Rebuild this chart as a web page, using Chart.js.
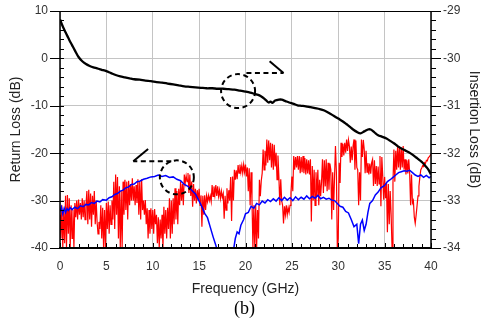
<!DOCTYPE html>
<html>
<head>
<meta charset="utf-8">
<script src="https://cdn.jsdelivr.net/npm/chart.js@4.4.1/dist/chart.umd.min.js"></script>
<style>
  html, body { margin: 0; padding: 0; background: #fff; }
  #wrap { width: 482px; height: 320px; }
</style>
</head>
<body>
<div id="wrap"><canvas id="chart" width="482" height="320"></canvas></div>
<script>
// tick labels
const freqTicks = [0, 5, 10, 15, 20, 25, 30, 35, 40];
const rlTicks = [10, 0, -10, -20, -30, -40];
const ilTicks = [-29, -30, -31, -32, -33, -34];

// insertion loss (black, right axis)
const ilFreq = [0, 0.2, 0.4, 0.6, 0.8, 1.0, 1.3, 1.6, 2.0, 2.4, 2.8, 3.2, 3.6, 4.0, 4.5, 5.0, 5.5, 6.0, 6.5, 7.0,
  7.5, 8.0, 8.6, 9.2, 9.8, 10.4, 11.0, 11.6, 12.2, 12.8, 13.4, 14.0, 14.6, 15.2, 15.8, 16.4, 17.0, 17.6, 18.2, 18.8,
  19.4, 20.0, 20.5, 21.0, 21.5, 21.9, 22.2, 22.5, 22.7, 22.9, 23.2, 23.6, 23.9, 24.3, 24.7, 25.2, 25.6, 26.0, 26.5, 27.0,
  27.5, 28.0, 28.5, 29.0, 29.5, 30.0, 30.5, 30.9, 31.3, 31.6, 32.0, 32.4, 32.8, 33.2, 33.5, 33.9, 34.3, 34.7, 35.2, 35.6,
  36.0, 36.4, 36.8, 37.2, 37.6, 38.0, 38.4, 38.8, 39.1, 39.4, 39.7, 39.9, 40.0];
const ilValues = [-29.18, -29.28, -29.37, -29.45, -29.53, -29.61, -29.72, -29.83, -29.97, -30.06, -30.12, -30.16, -30.19, -30.21, -30.24, -30.27, -30.31, -30.35, -30.38, -30.40,
  -30.42, -30.44, -30.45, -30.47, -30.48, -30.50, -30.51, -30.53, -30.55, -30.57, -30.59, -30.60, -30.61, -30.62, -30.63, -30.63, -30.64, -30.64, -30.65, -30.66,
  -30.68, -30.70, -30.72, -30.75, -30.78, -30.83, -30.88, -30.93, -30.91, -30.94, -30.89, -30.87, -30.87, -30.90, -30.93, -30.96, -30.99, -31.00, -31.01, -31.03,
  -31.05, -31.07, -31.10, -31.15, -31.21, -31.27, -31.33, -31.39, -31.45, -31.50, -31.55, -31.58, -31.54, -31.50, -31.50, -31.56, -31.62, -31.65, -31.69, -31.74,
  -31.79, -31.85, -31.90, -31.94, -31.98, -32.03, -32.09, -32.15, -32.20, -32.27, -32.34, -32.41, -32.45];

// return loss, blue trace
const blueFreq = [0, 0.15, 0.3, 0.45, 0.6, 0.75, 0.9, 1.1, 1.3, 1.6, 1.9, 2.2, 2.5, 2.8, 3.1, 3.4, 3.7, 4.0, 4.3, 4.6,
  5.0, 5.3, 5.6, 5.9, 6.2, 6.5, 6.8, 7.1, 7.4, 7.7, 8.0, 8.3, 8.6, 9.0, 9.4, 9.8, 10.2, 10.6, 11.0, 11.4,
  11.8, 12.2, 12.6, 13.0, 13.4, 13.8, 14.2, 14.6, 15.0, 15.3, 15.6, 15.9, 16.2, 16.5, 16.8, 17.0, 17.5, 18.3, 18.7, 18.9,
  19.1, 19.3, 19.5, 19.8, 20.0, 20.3, 20.6, 20.9, 21.2, 21.5, 21.8, 22.1, 22.4, 22.7, 23.0, 23.3, 23.6, 23.9, 24.2, 24.5,
  24.8, 25.1, 25.4, 25.7, 26.0, 26.3, 26.6, 26.9, 27.2, 27.5, 27.8, 28.1, 28.4, 28.7, 29.0, 29.3, 29.6, 29.9, 30.2, 30.5,
  30.8, 31.1, 31.4, 31.7, 32.0, 32.2, 32.4, 32.6, 32.8, 33.0, 33.2, 33.4, 33.7, 34.0, 34.3, 34.6, 35.0, 35.3, 35.6, 35.9,
  36.2, 36.5, 36.8, 37.1, 37.4, 37.7, 38.0, 38.3, 38.6, 38.9, 39.2, 39.5, 39.8, 40.0];
const blueRL = [-32.3, -31.4, -32.8, -31.6, -32.5, -31.7, -32.1, -31.5, -31.9, -31.4, -31.7, -31.1, -31.3, -30.8, -30.9, -30.4, -30.6, -30.1, -30.3, -29.8,
  -29.9, -29.4, -29.2, -28.7, -28.5, -28.0, -27.8, -27.3, -27.1, -26.6, -26.5, -26.0, -25.9, -25.5, -25.3, -25.0, -24.9, -24.6, -24.9, -24.7,
  -25.1, -25.0, -25.5, -25.8, -26.6, -27.0, -27.8, -28.6, -30.1, -31.3, -32.7, -33.6, -35.6, -37.6, -39.4, -41, -44, -44, -40.5, -38.0,
  -36.6, -37.0, -35.2, -34.0, -32.8, -32.5, -31.2, -31.6, -30.6, -30.9, -30.1, -30.5, -29.8, -30.2, -29.6, -30.1, -29.4, -30.0, -29.3, -29.9,
  -29.4, -30.0, -29.2, -29.8, -29.3, -29.7, -29.0, -29.6, -29.1, -29.5, -28.9, -29.6, -29.3, -29.7, -29.5, -29.9, -30.0, -30.6, -31.2, -31.4,
  -32.3, -32.6, -34.0, -35.5, -35.0, -39.1, -35.0, -34.1, -36.3, -35.0, -32.5, -30.6, -30.0, -28.8, -28.2, -27.3, -26.8, -26.0, -25.6, -25.1,
  -24.6, -24.1, -23.9, -23.7, -23.8, -23.6, -24.1, -24.6, -24.9, -24.6, -25.1, -24.7, -25.2, -24.9];

// return loss, red trace, one row per GHz, 0.1 GHz apart
const redStep = 0.1;
const redRL = [
  -33, -38, -31, -40, -32, -39, -29, -40, -28.8, -37,
  -29.5, -40, -31, -38, -32, -40, -30.5, -33.5, -30, -34,
  -29.8, -33, -30.5, -34, -29.5, -33.5, -30, -34, -31, -28,
  -35, -27.7, -34, -28.5, -35.5, -29, -33, -28, -35, -30,
  -34.5, -37, -34.5, -36, -31, -38, -31.5, -40, -32, -40,
  -30.5, -36, -30.2, -37, -31, -35, -30, -34, -26, -36,
  -24.5, -33, -25, -38, -27, -40, -28, -40, -26, -33,
  -25.6, -32, -26, -34, -25.8, -31, -26.5, -30, -25.3, -30,
  -27, -31, -26.7, -30.5, -25.5, -33, -26, -34, -25.5, -32,
  -30, -33, -29.9, -35, -31.6, -38, -32, -37, -31.6, -36,
  -32, -37, -31.8, -35, -33, -39, -33.5, -40, -34, -38,
  -33, -40, -31.3, -37, -32, -38, -31.5, -36, -29.5, -38,
  -30, -37, -29.5, -35, -27.4, -34, -28, -35, -27.5, -31,
  -26, -30, -26.5, -31, -24.5, -26.3, -24.8, -26, -24.2, -28.4,
  -24.5, -29, -26, -31.3, -26.5, -30, -27.5, -30.6, -27.8, -30,
  -27.5, -31, -28.9, -35.5, -29, -33, -28.9, -32, -29, -30.2,
  -28.9, -30, -29, -30.2, -26.7, -29.1, -27, -28.8, -26.7, -29,
  -27, -29.1, -27.8, -29.5, -28, -29.3, -28.5, -33.8, -29, -32,
  -27.4, -30.6, -27.8, -30, -25, -34.3, -24.9, -30, -23.5, -25.6,
  -23.6, -25.5, -22.5, -24.2, -22.4, -24, -22.6, -24.2, -22.4, -24,
  -22.4, -24.9, -23, -28, -23.2, -31, -24, -30, -40, -31,
  -40, -31, -40, -32, -38, -25.6, -29.1, -25.8, -24.2, -19.2,
  -23.5, -19.5, -22.6, -17.1, -22, -17.3, -21.5, -17.8, -23, -18,
  -23.5, -18.2, -22.8, -19.9, -25.6, -20.5, -25, -31, -25.5, -30,
  -31, -34.8, -31.2, -33, -31, -33, -31.5, -32.5, -31, -28.4,
  -24.9, -28, -20.6, -23.5, -20.8, -23, -20.6, -23.5, -20.6, -24.2,
  -20.8, -24, -20.6, -24.2, -21, -24.5, -21.3, -24.3, -21.5, -24.5,
  -21.3, -34.4, -22.7, -30, -23.5, -31, -24, -29, -23.5, -31,
  -25.6, -29.1, -26, -21.3, -28.4, -21.5, -27, -21.3, -28, -22,
  -27.7, -22.2, -23.5, -34, -24, -32, -25, -18.5, -24, -40,
  -38, -22, -26.3, -17.8, -20.8, -18, -20.5, -17.8, -19.9, -17.1,
  -19.5, -17.2, -18.5, -22, -18.6, -21.5, -18.5, -17.1, -23.5, -17.3,
  -23, -23.5, -31, -24, -30, -17.1, -20.8, -17.2, -19.2, -24.2,
  -19.5, -24, -22.1, -24.5, -22.2, -24.3, -22, -21.3, -26.9, -21.5,
  -26.5, -22.7, -26.9, -22.8, -26.5, -20.6, -31.2, -20.8, -24.9, -29.8,
  -25, -29.5, -26.3, -36.7, -26.5, -35, -28, -33, -40, -26.3,
  -19.2, -26, -19.5, -23.5, -18.5, -23, -18.6, -23.5, -18.8, -23,
  -18.5, -23.5, -21.3, -24.5, -21.5, -24.3, -21.3, -24.2, -31, -24.5,
  -30.5, -30, -33.5, -34.8, -33, -31, -29, -27, -25, -23.5,
  -23.1, -22.6, -22.8, -22, -22.2, -21.5, -21.6, -21, -20.8, -20.5,
  -20.2
];

// dashed call-outs (return-loss axis units)
const circleCenters = [{ x: 19.2, y: -6.9 }, { x: 12.6, y: -25.1 }];
const arrowLines = [
  { from: { x: 20.1, y: -3.1 }, to: { x: 24.1, y: -3.1 }, head: { x: 22.6, y: -0.6 } },
  { from: { x: 12.0, y: -21.7 }, to: { x: 7.9, y: -21.7 }, head: { x: 9.5, y: -19.1 } }
];

const fontSans = "'Liberation Sans', Arial, sans-serif";

const calloutPlugin = {
  id: "callouts",
  afterDatasetsDraw(chart) {
    const { ctx } = chart;
    const x = chart.scales.x, y = chart.scales.yRL;
    ctx.save();
    ctx.strokeStyle = "#000";
    ctx.lineWidth = 2;
    ctx.setLineDash([5, 3.5]);
    circleCenters.forEach(c => {
      ctx.beginPath();
      ctx.arc(x.getPixelForValue(c.x), y.getPixelForValue(c.y), 17, 0, Math.PI * 2);
      ctx.stroke();
    });
    arrowLines.forEach(a => {
      ctx.setLineDash([5, 3.5]);
      ctx.beginPath();
      ctx.moveTo(x.getPixelForValue(a.from.x), y.getPixelForValue(a.from.y));
      ctx.lineTo(x.getPixelForValue(a.to.x), y.getPixelForValue(a.to.y));
      ctx.stroke();
      ctx.setLineDash([]);
      ctx.beginPath();
      ctx.moveTo(x.getPixelForValue(a.head.x), y.getPixelForValue(a.head.y));
      ctx.lineTo(x.getPixelForValue(a.to.x), y.getPixelForValue(a.to.y));
      ctx.stroke();
    });
    ctx.restore();
  }
};

const framePlugin = {
  id: "frame",
  afterDraw(chart) {
    const { ctx, chartArea: a } = chart;
    const x = chart.scales.x, yl = chart.scales.yRL, yr = chart.scales.yIL;
    const line = (x1, y1, x2, y2) => { ctx.beginPath(); ctx.moveTo(x1, y1); ctx.lineTo(x2, y2); ctx.stroke(); };
    ctx.save();
    ctx.strokeStyle = "#000";
    ctx.lineWidth = 1;
    for (let v = 0; v <= 40; v++) {
      const px = Math.round(x.getPixelForValue(v)) + 0.5;
      line(px, a.bottom, px, a.bottom - (v % 5 === 0 ? 5 : 4));
    }
    for (let v = -40; v <= 10; v += 2) {
      const py = Math.round(yl.getPixelForValue(v)) + 0.5;
      if (v % 10 === 0) line(a.left - 10, py, a.left + 4, py);
      else line(a.left, py, a.left + 4, py);
    }
    for (let i = 0; i <= 25; i++) {
      const py = Math.round(yr.getPixelForValue(-34 + i * 0.2)) + 0.5;
      line(a.right, py, a.right + (i % 5 === 0 ? 10 : 5), py);
    }
    ctx.lineWidth = 1;
    line(a.left, a.top + 0.5, a.right, a.top + 0.5);
    ctx.lineWidth = 1.5;
    line(a.left, a.top, a.left, a.bottom);
    line(a.right, a.top, a.right, a.bottom);
    ctx.lineWidth = 2;
    line(a.left - 1, a.bottom, a.right + 1, a.bottom);
    ctx.fillStyle = "#000";
    ctx.font = "18px 'Liberation Serif', 'Times New Roman', serif";
    ctx.textAlign = "center";
    ctx.textBaseline = "middle";
    ctx.fillText("(b)", (a.left + a.right) / 2 - 1, 309);
    ctx.restore();
  }
};

function useTicks(list) {
  return scale => { scale.ticks = list.map(v => ({ value: v })); };
}
function fixWidth(w) {
  return s => { s.width = w; s.paddingTop = 7; s.paddingBottom = 7; };
}

new Chart(document.getElementById("chart"), {
  type: "line",
  data: {
    datasets: [
      {
        label: "Insertion Loss",
        yAxisID: "yIL",
        data: ilFreq.map((f, i) => ({ x: f, y: ilValues[i] })),
        borderColor: "#000",
        borderWidth: 2.3,
        pointRadius: 0,
        tension: 0.3,
        clip: 0
      },
      {
        label: "Return Loss 2",
        yAxisID: "yRL",
        data: blueFreq.map((f, i) => ({ x: f, y: blueRL[i] })),
        borderColor: "#0000ff",
        borderWidth: 1.5,
        pointRadius: 0,
        tension: 0,
        clip: 0
      },
      {
        label: "Return Loss 1",
        yAxisID: "yRL",
        data: redRL.map((v, i) => ({ x: i * redStep, y: v })),
        borderColor: "#ff0000",
        borderWidth: 1.2,
        pointRadius: 0,
        tension: 0,
        clip: 0
      }
    ]
  },
  options: {
    responsive: false,
    animation: false,
    devicePixelRatio: 1,
    layout: { padding: { top: 11, left: 0, right: 0, bottom: 22 } },
    plugins: { legend: { display: false }, tooltip: { enabled: false } },
    scales: {
      x: {
        type: "linear",
        min: 0, max: 40,
        afterBuildTicks: useTicks(freqTicks),
        afterFit: s => { s.height = 50; },
        grid: { color: "#c4c4c4", lineWidth: 1, drawTicks: false },
        border: { display: false },
        ticks: { color: "#333", font: { family: fontSans, size: 12 }, padding: 11, maxRotation: 0 },
        title: { display: true, text: "Frequency (GHz)", color: "#222", font: { family: fontSans, size: 14 }, padding: 0 }
      },
      yRL: {
        type: "linear",
        position: "left",
        min: -40, max: 10,
        afterBuildTicks: useTicks(rlTicks),
        afterFit: fixWidth(60),
        grid: { color: "#c4c4c4", lineWidth: 1, drawTicks: false },
        border: { display: false },
        ticks: { color: "#333", font: { family: fontSans, size: 12 }, padding: 12 },
        title: { display: true, text: "Return Loss (dB)", color: "#222", font: { family: fontSans, size: 14 }, padding: { top: 8, bottom: 0 } }
      },
      yIL: {
        type: "linear",
        position: "right",
        min: -34, max: -29,
        afterBuildTicks: useTicks(ilTicks),
        afterFit: fixWidth(51),
        grid: { display: false, drawTicks: false },
        border: { display: false },
        ticks: { color: "#333", font: { family: fontSans, size: 12 }, padding: 12 },
        title: { display: true, text: "Insertion Loss (dB)", color: "#222", font: { family: fontSans, size: 14 }, padding: { top: 0, bottom: 0 } }
      }
    }
  },
  plugins: [calloutPlugin, framePlugin]
});
</script>
</body>
</html>
